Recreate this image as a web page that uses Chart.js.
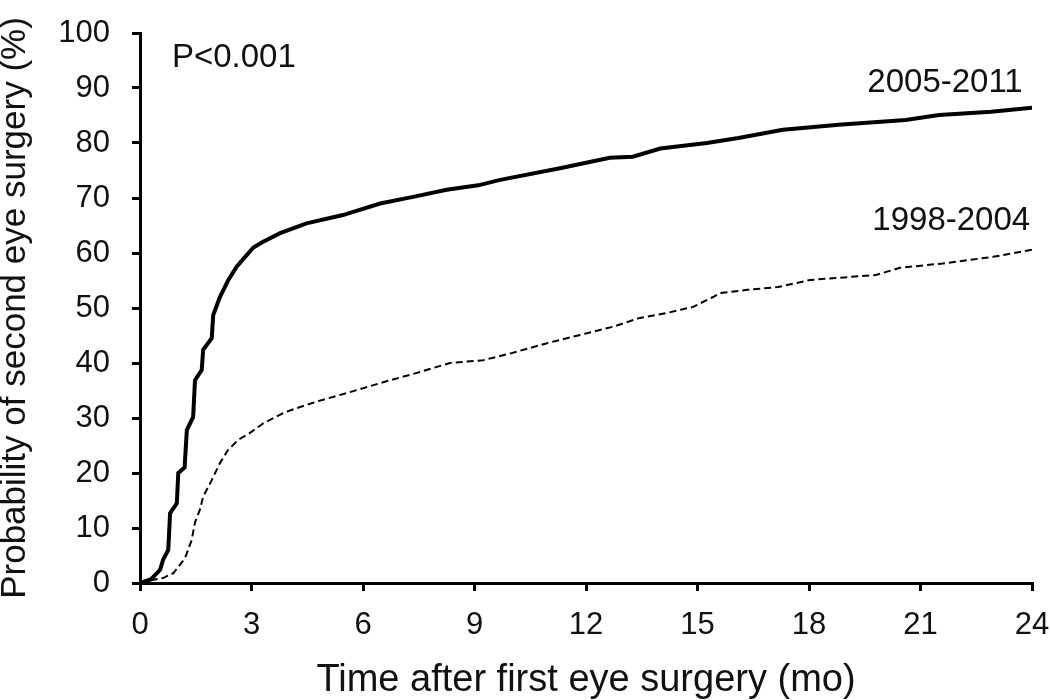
<!DOCTYPE html>
<html>
<head>
<meta charset="utf-8">
<script src="https://cdn.jsdelivr.net/npm/chart.js@4/dist/chart.umd.min.js"></script>
<style>
  html, body { margin: 0; padding: 0; background: #fff; }
  #wrap { width: 1050px; height: 700px; }
</style>
</head>
<body>
<div id="wrap"><canvas id="km"></canvas></div>
<script>
// months after first eye surgery / cumulative probability (%)
const recentMonths = [0, 0.3, 0.54, 0.62, 0.76, 0.81, 0.99, 1.03, 1.2, 1.26, 1.43, 1.48, 1.66, 1.7, 1.93, 1.97, 2.15, 2.37, 2.6, 2.83, 3.05, 3.3, 3.77, 4.48, 5.46, 6.46, 7.35, 8.25, 9.1, 9.69, 11.3, 12.64, 13.26, 14.0, 15.25, 16.1, 17.3, 18.8, 20.6, 21.5, 22.9, 24];
const recentProb = [0, 0.7, 2.4, 4.2, 6, 12.7, 14.5, 20, 21, 27.8, 30.2, 36.9, 38.7, 42.4, 44.5, 48.7, 52, 55, 57.5, 59.3, 61, 62, 63.6, 65.4, 66.9, 69, 70.2, 71.5, 72.3, 73.3, 75.4, 77.3, 77.5, 79, 80, 80.9, 82.4, 83.3, 84.2, 85.1, 85.7, 86.4];

const earlyMonths = [0, 0.3, 0.62, 0.9, 1.21, 1.39, 1.48, 1.61, 1.7, 1.93, 2.15, 2.37, 2.64, 2.96, 3.31, 3.85, 4.22, 4.76, 5.65, 6.54, 7.45, 8.34, 9.23, 10.0, 10.95, 11.84, 12.73, 13.45, 14.18, 14.88, 15.42, 15.6, 16.33, 17.16, 18.03, 19.8, 20.45, 21.6, 22.95, 24];
const earlyProb = [0, 0.5, 0.9, 1.8, 4.5, 7.8, 11, 13.3, 15.7, 18.7, 21.8, 24.2, 26, 27.3, 29, 30.9, 31.8, 33, 34.7, 36.5, 38.2, 40, 40.5, 41.8, 43.6, 45.1, 46.6, 48.2, 49.1, 50.2, 52, 52.7, 53.3, 53.8, 55.1, 56, 57.3, 58.1, 59.3, 60.6];

const seriesNames = ["2005-2011", "1998-2004"];
const xTicks = [0, 3, 6, 9, 12, 15, 18, 21, 24];
const yTicks = [0, 10, 20, 30, 40, 50, 60, 70, 80, 90, 100];

const FONT = "'Liberation Sans', Arial, sans-serif";
const INK = "#111";

function toPoints(xs, ys) {
  return xs.map((x, i) => ({ x: x, y: ys[i] }));
}

// text labels placed in data coordinates
const notes = [
  { text: "P<0.001", x: 0.86, y: 93.8, align: "left" },
  { text: seriesNames[0], x: 23.75, y: 89.3, align: "right" },
  { text: seriesNames[1], x: 23.95, y: 64.2, align: "right" }
];

const notesPlugin = {
  id: "notes",
  afterDatasetsDraw(chart) {
    const { ctx, scales } = chart;
    ctx.save();
    ctx.fillStyle = INK;
    ctx.font = "33px " + FONT;
    ctx.textBaseline = "alphabetic";
    notes.forEach(n => {
      ctx.textAlign = n.align;
      ctx.fillText(n.text, scales.x.getPixelForValue(n.x), scales.y.getPixelForValue(n.y));
    });
    ctx.restore();
  }
};

new Chart(document.getElementById("km"), {
  type: "line",
  data: {
    datasets: [
      {
        label: seriesNames[0],
        data: toPoints(recentMonths, recentProb),
        borderColor: "#000",
        borderWidth: 4,
        pointRadius: 0,
        tension: 0,
        borderJoinStyle: "miter"
      },
      {
        label: seriesNames[1],
        data: toPoints(earlyMonths, earlyProb),
        borderColor: "#000",
        borderWidth: 2,
        borderDash: [7, 4],
        pointRadius: 0,
        tension: 0
      }
    ]
  },
  options: {
    responsive: true,
    maintainAspectRatio: false,
    animation: false,
    layout: { padding: { top: 33, right: 18, left: 0, bottom: 0 } },
    plugins: { legend: { display: false }, tooltip: { enabled: false } },
    scales: {
      x: {
        type: "linear",
        min: 0,
        max: 24,
        afterBuildTicks: s => { s.ticks = xTicks.map(v => ({ value: v })); },
        // fixed axis box; drop the label overhang padding chart.js adds
        afterFit: s => { s.height = 117; s.paddingLeft = 0; s.paddingRight = 0; },
        grid: { drawOnChartArea: false, drawTicks: true, tickLength: 8, color: "#000", lineWidth: 3 },
        border: { color: "#000", width: 3 },
        ticks: { color: INK, padding: 16, font: { family: FONT, size: 31 }, maxRotation: 0 },
        title: {
          display: true,
          text: "Time after first eye surgery (mo)",
          color: INK,
          padding: 0,
          font: { family: FONT, size: 38, lineHeight: 1 }
        }
      },
      y: {
        type: "linear",
        min: 0,
        max: 100,
        afterBuildTicks: s => { s.ticks = yTicks.map(v => ({ value: v })); },
        afterFit: s => { s.width = 140; s.paddingTop = 0; s.paddingBottom = 0; },
        grid: { drawOnChartArea: false, drawTicks: true, tickLength: 8, color: "#000", lineWidth: 3 },
        border: { color: "#000", width: 3 },
        ticks: { color: INK, padding: 22, font: { family: FONT, size: 31 } },
        title: {
          display: true,
          text: "Probability of second eye surgery (%)",
          color: INK,
          padding: 0,
          font: { family: FONT, size: 35, lineHeight: 0.9 }
        }
      }
    }
  },
  plugins: [notesPlugin]
});
</script>
</body>
</html>
